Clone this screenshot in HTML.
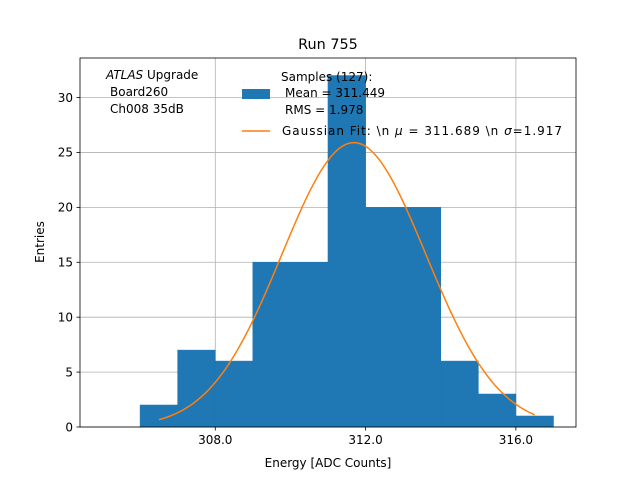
<!DOCTYPE html>
<html><head><meta charset="utf-8"><style>
body{margin:0;background:#fff;}
svg{font-family:"DejaVu Sans","Liberation Sans",sans-serif;}
</style></head><body>
<svg id="chart" width="640" height="480" viewBox="0 0 640 480">
<rect width="640" height="480" fill="#fff"/>
<g id="grid"></g>
<g id="bars"></g>
<path id="fit" fill="none" stroke="#ff7f0e" stroke-width="1.5"/>
<rect x="80" y="58" width="496" height="369" fill="none" stroke="#000" stroke-width="0.8"/>
<g id="xticks"></g>
<g id="yticks"></g>
<text x="328" y="49" font-size="14.4" text-anchor="middle">Run 755</text>
<text x="328" y="467" font-size="12" text-anchor="middle">Energy [ADC Counts]</text>
<text x="44" y="242" font-size="12" text-anchor="middle" transform="rotate(-90 44 242)">Entries</text>
<g font-size="12">
<text x="106" y="79"><tspan font-style="italic">ATLAS</tspan> Upgrade</text>
<text x="110" y="96">Board260</text>
<text x="110" y="113">Ch008 35dB</text>
</g>
<g font-size="12">
<text x="281" y="81">Samples (127):</text>
<rect x="242" y="89" width="28" height="10" fill="#1f77b4"/>
<text x="285" y="97">Mean = 311.449</text>
<text x="285" y="114">RMS = 1.978</text>
<line x1="242" y1="131" x2="270" y2="131" stroke="#ff7f0e" stroke-width="1.5"/>
<text x="282" y="135" textLength="280" lengthAdjust="spacing">Gaussian Fit: \n <tspan font-style="italic">μ</tspan> = 311.689 \n <tspan font-style="italic">σ</tspan>=1.917</text>
</g>
</svg>
<script>
const binEdges=[306,307,308,309,310,311,312,313,314,315,316];
const counts=[2,7,6,15,15,32,20,20,6,3,1];
const fitParams=[25.9,311.689,1.917];
const fitRange=[306.5,316.5];
const xTickVals=[308,312,316];
const xTickLabels=["308.0","312.0","316.0"];
const yTickVals=[0,5,10,15,20,25,30];
const NS="http://www.w3.org/2000/svg";
const X0=80,X1=576,Y0=427,Y1=58,XMIN=304.4,XMAX=317.6,YMAX=33.6;
const sx=v=>X0+(v-XMIN)/(XMAX-XMIN)*(X1-X0);
const sy=v=>Y0-v/YMAX*(Y0-Y1);
function mk(tag,attrs,parent){const e=document.createElementNS(NS,tag);for(const k in attrs)e.setAttribute(k,attrs[k]);parent.appendChild(e);return e;}
const grid=document.getElementById('grid'),bars=document.getElementById('bars');
const xt=document.getElementById('xticks'),yt=document.getElementById('yticks');
xTickVals.forEach((v,i)=>{
 const l=mk('line',{x1:sx(v),x2:sx(v),y1:Y1,y2:Y0,stroke:'#b0b0b0','stroke-width':0.8},grid);
 
 
 const t=mk('line',{x1:sx(v),x2:sx(v),y1:Y0,y2:Y0+3.5,stroke:'#000','stroke-width':0.8},xt);
 
 
 const tx=mk('text',{x:sx(v),y:Y0+17,'font-size':12,'text-anchor':'middle'},xt);tx.textContent=xTickLabels[i];
 
 
});
yTickVals.forEach(v=>{
 const l=mk('line',{x1:X0,x2:X1,y1:sy(v),y2:sy(v),stroke:'#b0b0b0','stroke-width':0.8},grid);
 
 
 const t=mk('line',{x1:X0-3.5,x2:X0,y1:sy(v),y2:sy(v),stroke:'#000','stroke-width':0.8},yt);
 
 
 const tx=mk('text',{x:X0-7,y:sy(v)+4.3,'font-size':12,'text-anchor':'end'},yt);tx.textContent=v;
 
 
});
counts.forEach((c,i)=>{
 const r=mk('rect',{x:sx(binEdges[i]),y:sy(c),width:sx(binEdges[i]+1)-sx(binEdges[i]),height:sy(0)-sy(c),fill:'#1f77b4',stroke:'#1f77b4','stroke-width':0.6},bars);
 
 
});
let d='';
for(let k=0;k<=100;k++){const x=fitRange[0]+(fitRange[1]-fitRange[0])*k/100;
 const y=fitParams[0]*Math.exp(-0.5*Math.pow((x-fitParams[1])/fitParams[2],2));
 d+=(k?'L':'M')+sx(x).toFixed(2)+' '+sy(y).toFixed(2);}
document.getElementById('fit').setAttribute('d',d);
</script>
</body></html>
